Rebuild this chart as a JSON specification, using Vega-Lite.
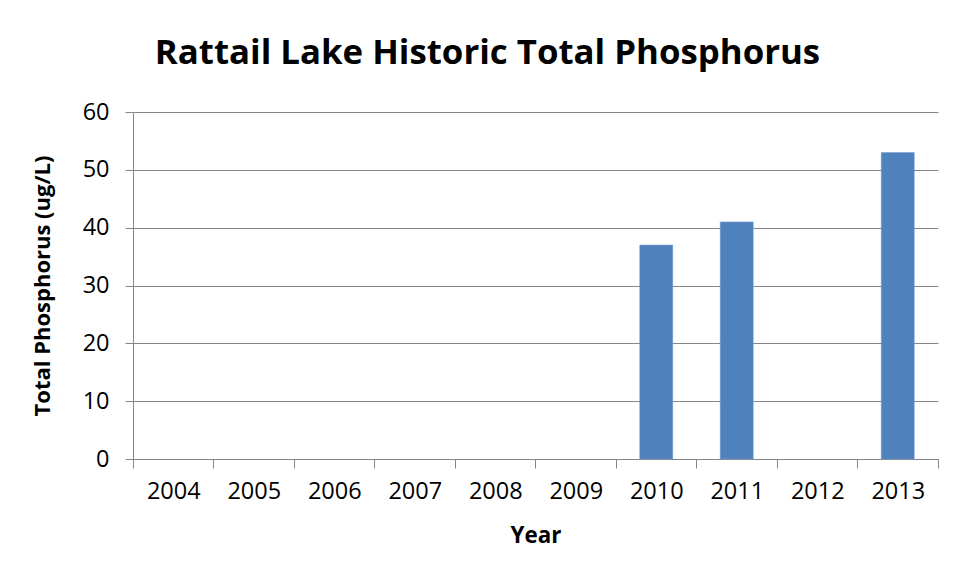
{
  "$schema": "https://vega.github.io/schema/vega-lite/v6.json",
  "width": 805,
  "height": 347,
  "autosize": {"type": "none"},
  "padding": {"left": 133, "top": 112, "right": 22, "bottom": 124},
  "background": "white",
  "title": {
    "text": "Rattail Lake Historic Total Phosphorus",
    "font": "Open Sans",
    "fontSize": 34.8,
    "fontWeight": "bold",
    "color": "#000000",
    "anchor": "middle",
    "dx": -48,
    "offset": 28
  },
  "data": {
    "values": [
      {"Year": "2004", "TP": null},
      {"Year": "2005", "TP": null},
      {"Year": "2006", "TP": null},
      {"Year": "2007", "TP": null},
      {"Year": "2008", "TP": null},
      {"Year": "2009", "TP": null},
      {"Year": "2010", "TP": 37},
      {"Year": "2011", "TP": 41},
      {"Year": "2012", "TP": null},
      {"Year": "2013", "TP": 53}
    ]
  },
  "mark": {"type": "bar", "color": "#4f81bd", "stroke": "#6f9bd0", "strokeWidth": 0.5},
  "encoding": {
    "x": {
      "field": "Year",
      "type": "ordinal",
      "scale": {
        "domain": ["2004", "2005", "2006", "2007", "2008", "2009", "2010", "2011", "2012", "2013"],
        "paddingInner": 0.59,
        "paddingOuter": 0.295
      },
      "axis": {
        "title": "Year",
        "labelAngle": 0,
        "bandPosition": 2.439,
        "tickExtra": true,
        "tickOffset": -23.75,
        "labelOffset": 23.75,
        "ticks": true,
        "tickSize": 9,
        "tickColor": "#868686",
        "domainColor": "#868686",
        "labelFont": "Open Sans",
        "labelFontSize": 23.5,
        "labelColor": "#000000",
        "labelPadding": 11,
        "titleFont": "Open Sans",
        "titleFontSize": 22.4,
        "titleFontWeight": "bold",
        "titleColor": "#000000",
        "titlePadding": 22,
        "grid": false
      }
    },
    "y": {
      "field": "TP",
      "type": "quantitative",
      "scale": {"domain": [0, 60]},
      "axis": {
        "title": "Total Phosphorus (ug/L)",
        "values": [0, 10, 20, 30, 40, 50, 60],
        "tickSize": 8,
        "tickColor": "#868686",
        "domainColor": "#868686",
        "gridColor": "#868686",
        "gridWidth": 1,
        "labelFont": "Open Sans",
        "labelFontSize": 23.5,
        "labelColor": "#000000",
        "labelPadding": 16,
        "titleFont": "Open Sans",
        "titleFontSize": 22,
        "titleFontWeight": "bold",
        "titleColor": "#000000",
        "titlePadding": 28
      }
    }
  },
  "config": {"view": {"stroke": null}}
}
